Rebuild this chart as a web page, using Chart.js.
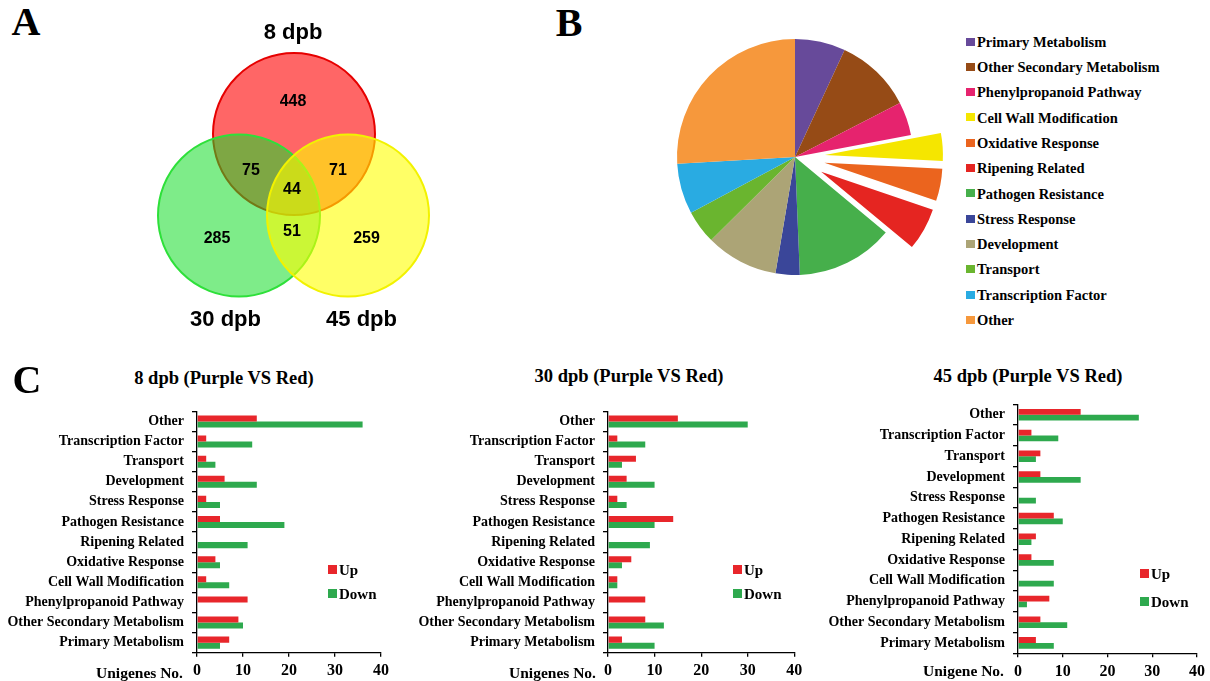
<!DOCTYPE html>
<html>
<head>
<meta charset="utf-8">
<title>Unigene classification</title>
<script src="https://cdn.jsdelivr.net/npm/chart.js@4.4.1/dist/chart.umd.min.js"></script>
<style>
body { margin: 0; background: #fff; }
#page { position: relative; width: 1210px; height: 681px; overflow: hidden; background: #fff; }
canvas { position: absolute; }
.txt { position: absolute; white-space: nowrap; font-weight: bold; color: #000; line-height: 1; }
.sw { position: absolute; }
</style>
</head>
<body>
<div id="page">
  <canvas id="venn" width="310" height="330" style="left:140px;top:10px"></canvas>
  <canvas id="pie" width="320" height="300" style="left:635px;top:7px"></canvas>
  <canvas id="bar8" width="400" height="286" style="left:0px;top:395px"></canvas>
  <canvas id="bar30" width="410" height="286" style="left:400px;top:395px"></canvas>
  <canvas id="bar45" width="400" height="293" style="left:810px;top:388px"></canvas>
</div>
<script>
// categories, pie share (%), colours
var categories = ['Primary Metabolism', 'Other Secondary Metabolism', 'Phenylpropanoid Pathway',
  'Cell Wall Modification', 'Oxidative Response', 'Ripening Related', 'Pathogen Resistance',
  'Stress Response', 'Development', 'Transport', 'Transcription Factor', 'Other'];
var categoryColors = ['#674a9a', '#964b16', '#e6236e', '#f5e600', '#eb641e', '#e52521',
  '#46af4b', '#3a4699', '#aca476', '#6ab52f', '#29abe2', '#f6983c'];
var pieShare = [6.9, 10.5, 4.6, 3.8, 4.4, 5.8, 13.3, 3.3, 9.9, 4.6, 6.9, 25.9];
var explodedSlices = ['Cell Wall Modification', 'Oxidative Response', 'Ripening Related'];

// up / down counts per stage, same order as categories
var up8 = [7, 9, 11, 2, 4, 0, 5, 2, 6, 2, 2, 13];
var down8 = [5, 10, 0, 7, 5, 11, 19, 5, 13, 4, 12, 36];
var up30 = [3, 8, 8, 2, 5, 0, 14, 2, 4, 6, 2, 15];
var down30 = [10, 12, 0, 2, 3, 9, 10, 4, 10, 3, 8, 30];
var up45 = [4, 5, 7, 0, 3, 4, 8, 0, 5, 5, 3, 14];
var down45 = [8, 11, 2, 8, 8, 3, 10, 4, 14, 4, 9, 27];
var xTicks = [0, 10, 20, 30, 40];

// venn
var vennSets = ['8 dpb', '30 dpb', '45 dpb'];
var vennCounts = [448, 75, 71, 44, 285, 51, 259]; // 8 only, 8&30, 8&45, all, 30 only, 30&45, 45 only

var upColor = '#e8262b';
var downColor = '#2ea94e';
var serif = '"Liberation Serif", "Times New Roman", serif';
var sans = '"Liberation Sans", Arial, sans-serif';

var page = document.getElementById('page');
function addText(str, x, y, size, family, align) {
  var d = document.createElement('div');
  d.className = 'txt';
  d.textContent = str;
  d.style.left = x + 'px';
  d.style.top = y + 'px';
  d.style.fontSize = size + 'px';
  d.style.fontFamily = family;
  var tx = align === 'left' ? '0' : (align === 'right' ? '-100%' : '-50%');
  d.style.transform = 'translate(' + tx + ',-50%)';
  page.appendChild(d);
}
function addSwatch(color, x, y, w, h) {
  var s = document.createElement('div');
  s.className = 'sw';
  s.style.left = x + 'px';
  s.style.top = y + 'px';
  s.style.width = w + 'px';
  s.style.height = h + 'px';
  s.style.background = color;
  page.appendChild(s);
}

// --- A: venn diagram as bubbles ---
var circleSpots = [[154, 124], [99, 205.5], [208, 205.5]];
var circleFill = ['rgba(255,0,0,0.6)', 'rgba(20,220,40,0.55)', 'rgba(255,255,0,0.6)'];
var circleEdge = ['#e60000', '#2ee03a', '#f2f200'];
var countSpots = [[153, 92], [111, 161], [198, 161], [152, 179.5], [77, 229], [152, 222], [226.5, 229]];
var setSpots = [[153, 23], [85.5, 310], [221.5, 310]];

var vennText = {
  id: 'vennText',
  afterDatasetsDraw: function (chart) {
    var ctx = chart.ctx, xs = chart.scales.x, ys = chart.scales.y;
    ctx.save();
    ctx.fillStyle = '#000';
    ctx.textAlign = 'center';
    ctx.textBaseline = 'middle';
    ctx.font = 'bold 16px ' + sans;
    vennCounts.forEach(function (n, i) {
      ctx.fillText(String(n), xs.getPixelForValue(countSpots[i][0]), ys.getPixelForValue(countSpots[i][1]));
    });
    ctx.font = 'bold 22px ' + sans;
    vennSets.forEach(function (s, i) {
      ctx.fillText(s, xs.getPixelForValue(setSpots[i][0]), ys.getPixelForValue(setSpots[i][1]));
    });
    ctx.restore();
  }
};

new Chart(document.getElementById('venn'), {
  type: 'bubble',
  data: {
    datasets: [{
      data: circleSpots.map(function (p) { return { x: p[0], y: p[1], r: 81 }; }),
      backgroundColor: circleFill,
      borderColor: circleEdge,
      borderWidth: 2,
      clip: false
    }]
  },
  options: {
    responsive: false, animation: false, events: [],
    layout: { padding: 0, autoPadding: false },
    plugins: { legend: { display: false }, tooltip: { enabled: false } },
    scales: {
      x: { display: false, min: 0, max: 310 },
      y: { display: false, min: 0, max: 330, reverse: true }
    }
  },
  plugins: [vennText]
});

// --- B: pie ---
// pull the chosen slices out along their mid angle without growing them
var pullOut = {
  id: 'pullOut',
  afterDatasetUpdate: function (chart, args) {
    args.meta.data.forEach(function (arc, i) {
      if (explodedSlices.indexOf(chart.data.labels[i]) < 0) return;
      var mid = (arc.startAngle + arc.endAngle) / 2;
      arc.x += Math.cos(mid) * 30;
      arc.y += Math.sin(mid) * 30;
    });
  }
};

new Chart(document.getElementById('pie'), {
  type: 'pie',
  data: {
    labels: categories,
    datasets: [{
      data: pieShare,
      backgroundColor: categoryColors,
      borderWidth: 0,
      radius: 118
    }]
  },
  options: {
    responsive: false, animation: false, events: [],
    layout: { padding: 0, autoPadding: false },
    plugins: { legend: { display: false }, tooltip: { enabled: false } }
  },
  plugins: [pullOut]
});

categories.forEach(function (c, i) {
  addSwatch(categoryColors[i], 966, 37.5 + 25.3 * i, 9, 8);
  addText(c, 977, 41.7 + 25.3 * i, 14.5, serif, 'left');
});

// --- C: up/down bars ---
// the y axis reserves half a label + tick padding above the plot, so canvases start a little higher
function barChart(id, up, down, o) {
  var rev = function (a) { return a.slice().reverse(); };
  return new Chart(document.getElementById(id), {
    type: 'bar',
    data: {
      labels: rev(categories),
      datasets: [
        { label: 'Up', data: rev(up), backgroundColor: upColor, categoryPercentage: o.cat, barPercentage: 1 },
        { label: 'Down', data: rev(down), backgroundColor: downColor, categoryPercentage: o.cat, barPercentage: 1 }
      ]
    },
    options: {
      indexAxis: 'y', responsive: false, animation: false, events: [],
      layout: { padding: { top: 0, right: o.right, left: 0, bottom: 0 } },
      plugins: { legend: { display: false }, tooltip: { enabled: false } },
      scales: {
        y: {
          afterFit: function (s) { s.width = o.yw; },
          grid: { drawOnChartArea: false, drawTicks: true, tickLength: 5, color: '#000', lineWidth: 1.3, offset: true },
          border: { color: '#000', width: 1.3 },
          ticks: { color: '#000', padding: 8, autoSkip: false, font: { family: serif, size: 14, weight: 'bold' } }
        },
        x: {
          min: xTicks[0], max: xTicks[xTicks.length - 1],
          afterFit: function (s) { s.height = o.xh; },
          afterBuildTicks: function (s) { s.ticks = xTicks.map(function (v) { return { value: v }; }); },
          grid: { drawOnChartArea: false, drawTicks: true, tickLength: 4, color: '#000', lineWidth: 1.3 },
          border: { color: '#000', width: 1.3 },
          ticks: { color: '#000', padding: 5, font: { family: serif, size: 16, weight: 'bold' } }
        }
      }
    }
  });
}

barChart('bar8', up8, down8, { yw: 197, right: 19, xh: 28.3, cat: 0.6 });
barChart('bar30', up30, down30, { yw: 208, right: 15.7, xh: 28.3, cat: 0.6 });
barChart('bar45', up45, down45, { yw: 208, right: 8.3, xh: 27.7, cat: 0.56 });

// titles, axis names, legends
addText('8 dpb (Purple VS Red)', 224, 378, 18.5, serif, 'center');
addText('30 dpb (Purple VS Red)', 629, 376, 18.5, serif, 'center');
addText('45 dpb (Purple VS Red)', 1028, 376, 18.5, serif, 'center');
addText('Unigenes No.', 183, 673, 15.5, serif, 'right');
addText('Unigenes No.', 596, 673, 15.5, serif, 'right');
addText('Unigene No.', 1004, 671, 15.5, serif, 'right');

var legendSpots = [[328, 565, 589], [733, 565, 589], [1140, 569, 597]];
legendSpots.forEach(function (p) {
  addSwatch(upColor, p[0], p[1], 9, 9);
  addText('Up', p[0] + 11, p[1] + 4.5, 15, serif, 'left');
  addSwatch(downColor, p[0], p[2], 9, 9);
  addText('Down', p[0] + 11, p[2] + 4.5, 15, serif, 'left');
});

addText('A', 26, 22, 40, serif, 'center');
addText('B', 569, 23, 40, serif, 'center');
addText('C', 27, 380, 40, serif, 'center');
</script>
</body>
</html>
